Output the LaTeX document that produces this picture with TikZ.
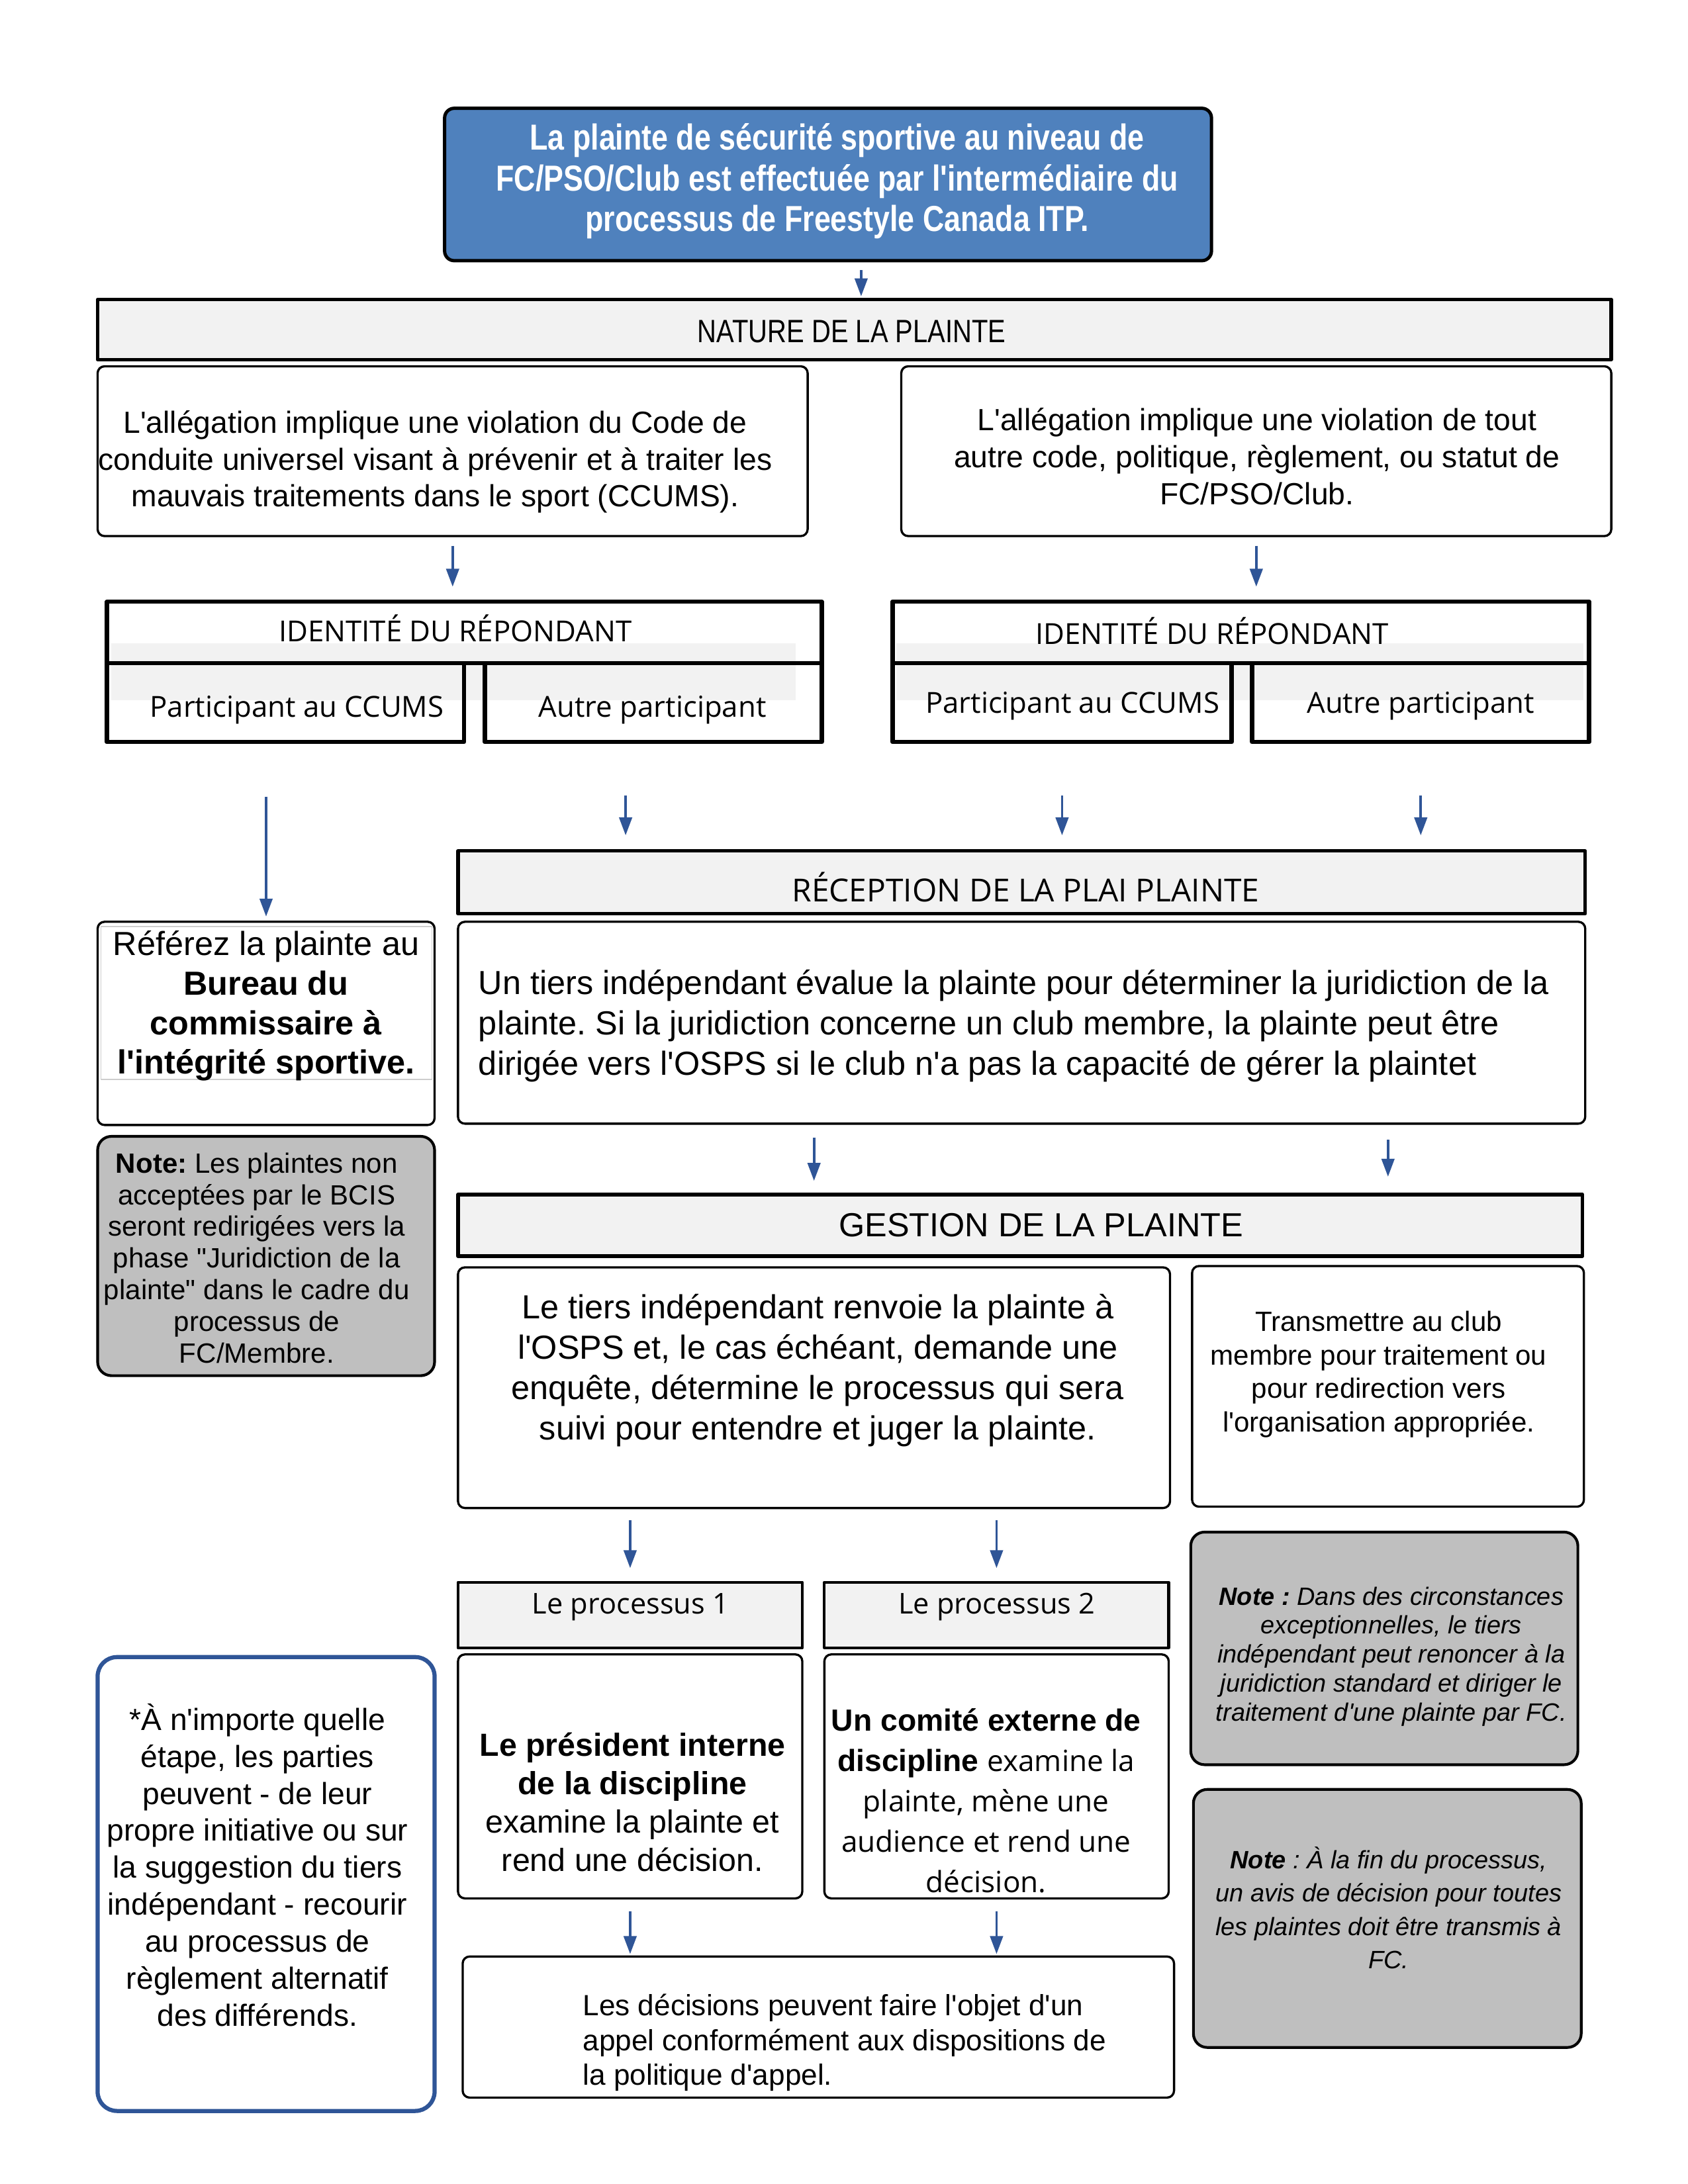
\documentclass[tikz,border=0pt]{standalone}
\usepackage{fontspec}
\setmainfont{Liberation Sans}[Ligatures=TeXOff]
\newfontfamily\segoe{Open Sans}[Ligatures=TeXOff]
\newfontfamily\narrow{Liberation Sans}[FakeStretch=0.82,Ligatures=TeXOff]
\usetikzlibrary{fit,arrows.meta}
\definecolor{headblue}{RGB}{79,129,189}
\definecolor{arrowblue}{RGB}{47,85,151}
\definecolor{bargray}{RGB}{242,242,242}
\definecolor{notegray}{RGB}{191,191,191}
\definecolor{framegray}{RGB}{205,205,205}
\newcommand{\fs}[2]{\fontsize{#1}{#2}\selectfont}
\begin{document}
\frenchspacing
\begin{tikzpicture}[x=0.2424pt, y=-0.2424pt, line join=round,
  box/.style={draw, line width=0.8pt, rounded corners=2.5pt, inner sep=0pt},
  bar/.style={draw, line width=1.3pt, fill=bargray, inner sep=0pt},
  idbox/.style={draw, line width=1.6pt, inner sep=0pt},
  note/.style={draw, line width=1pt, fill=notegray, rounded corners=5pt, inner sep=0pt},
  txt/.style={inner sep=0pt, align=center},
  arr/.style={-{Triangle[length=6.5pt,width=4.6pt]}, draw=arrowblue, line width=0.9pt}]
\useasboundingbox (0pt,0pt) rectangle (612pt,-792pt);

\node[box, fill=headblue, line width=1.2pt, rounded corners=3.5pt, fit={(665,162) (1812,390)}] (head) {};
\node[txt, text=white, font=\narrow\bfseries\fs{13.1}{14.7}] (head-t) at (1252,271)
  {La plainte de sécurité sportive au niveau de\\FC/PSO/Club est effectuée par l'intermédiaire du\\processus de Freestyle Canada ITP.};

\node[bar, fit={(146,448) (2410,538)}] (nature) {};
\node[txt, font=\narrow\fs{11.7}{13}] (nature-t) at (1274,496) {NATURE DE LA PLAINTE};

\node[box, fit={(146,548) (1208,802)}] (allegL) {};
\node[txt, font=\fs{11.1}{13.4}] (allegL-t) at (651,691)
  {L'allégation implique une violation du Code de\\conduite universel visant à prévenir et à traiter les\\mauvais traitements dans le sport (CCUMS).};
\node[box, fit={(1348,548) (2410,802)}] (allegR) {};
\node[txt, font=\fs{11.1}{13.4}] (allegR-t) at (1880,683)
  {L'allégation implique une violation de tout\\autre code, politique, règlement, ou statut de\\FC/PSO/Club.};

\fill[bargray] (166,962) rectangle (1190,1048);
\fill[bargray] (1341,962) rectangle (2368,1048);
\node[idbox, fit={(160,900) (1229,992)}] (idL) {};
\node[idbox, fit={(160,992) (694,1110)}] (idLa) {};
\node[idbox, fit={(725,992) (1229,1110)}] (idLb) {};
\node[idbox, fit={(1335,900) (2377,992)}] (idR) {};
\node[idbox, fit={(1335,992) (1842,1110)}] (idRa) {};
\node[idbox, fit={(1873,992) (2377,1110)}] (idRb) {};
\node[txt, font=\segoe\fs{10.5}{12}] (idL-t) at (681,940) {IDENTITÉ DU RÉPONDANT};
\node[txt, font=\segoe\fs{10.5}{12}] (idLa-t) at (444,1062) {Participant au CCUMS};
\node[txt, font=\segoe\fs{10.5}{12}] (idLb-t) at (976,1062) {Autre participant};
\node[txt, font=\segoe\fs{10.5}{12}] (idR-t) at (1813,944) {IDENTITÉ DU RÉPONDANT};
\node[txt, font=\segoe\fs{10.5}{12}] (idRa-t) at (1604,1056) {Participant au CCUMS};
\node[txt, font=\segoe\fs{10.5}{12}] (idRb-t) at (2125,1056) {Autre participant};

\node[bar, fit={(685,1273) (2371,1367)}] (recbar) {};
\node[txt, font=\segoe\fs{11.5}{13}] (recbar-t) at (1534,1327) {RÉCEPTION DE LA PLAI PLAINTE};

\node[box, fit={(146,1379) (650,1683)}] (refer) {};
\draw[framegray, line width=0.4pt] (151,1386) rectangle (646,1615);
\node[txt, font=\fs{12.1}{14.3}] (refer-t) at (398,1505)
  {Référez la plainte au\\\textbf{Bureau du}\\\textbf{commissaire à}\\\textbf{l'intégrité sportive.}};

\node[box, fit={(685,1379) (2371,1681)}] (recbody) {};
\node[inner sep=0pt, align=left, anchor=west, font=\fs{12.1}{14.6}] (recbody-t) at (715,1535)
  {Un tiers indépendant évalue la plainte pour déterminer la juridiction de la\\plainte. Si la juridiction concerne un club membre, la plainte peut être\\dirigée vers l'OSPS si le club n'a pas la capacité de gérer la plaintet};

\node[note, fit={(146,1700) (650,2058)}] (noteL) {};
\node[txt, font=\fs{10.1}{11.5}] (noteL-t) at (384,1882)
  {\textbf{Note:} Les plaintes non\\acceptées par le BCIS\\seront redirigées vers la\\phase "Juridiction de la\\plainte" dans le cadre du\\processus de\\FC/Membre.};

\node[bar, fit={(685,1787) (2367,1879)}] (gesbar) {};
\node[txt, font=\fs{12.1}{14}] (gesbar-t) at (1557,1833) {GESTION DE LA PLAINTE};

\node[box, fit={(685,1896) (1750,2256)}] (gesbody) {};
\node[txt, font=\fs{12.1}{14.6}] (gesbody-t) at (1223,2050)
  {Le tiers indépendant renvoie la plainte à\\l'OSPS et, le cas échéant, demande une\\enquête, détermine le processus qui sera\\suivi pour entendre et juger la plainte.};
\node[box, fit={(1783,1894) (2369,2254)}] (transmit) {};
\node[txt, font=\fs{10.1}{12.1}] (transmit-t) at (2062,2056)
  {Transmettre au club\\membre pour traitement ou\\pour redirection vers\\l'organisation appropriée.};

\node[bar, line width=1pt, fit={(685,2367) (1200,2465)}] (proc1) {};
\node[bar, line width=1pt, fit={(1233,2367) (1748,2465)}] (proc2) {};
\node[txt, font=\segoe\fs{10.4}{12}] (proc1-t) at (943,2404) {Le processus 1};
\node[txt, font=\segoe\fs{10.4}{12}] (proc2-t) at (1491,2404) {Le processus 2};

\node[box, fit={(685,2475) (1200,2840)}] (body1) {};
\node[txt, font=\fs{11.6}{13.9}] (body1-t) at (946,2696)
  {\textbf{Le président interne}\\\textbf{de la discipline}\\examine la plainte et\\rend une décision.};
\node[box, fit={(1233,2475) (1748,2840)}] (body2) {};
\node[txt, font=\fs{11.1}{14.6}] (body2-t) at (1475,2694)
  {\textbf{Un comité externe de}\\\textbf{discipline} {\segoe\fs{10.6}{14.6}examine la}\\{\segoe\fs{10.6}{14.6}plainte, mène une}\\{\segoe\fs{10.6}{14.6}audience et rend une}\\{\segoe\fs{10.6}{14.6}décision.}};

\node[box, fit={(692,2927) (1756,3138)}] (decis) {};
\node[inner sep=0pt, align=left, anchor=west, font=\fs{10.6}{12.6}] (decis-t) at (871,3056)
  {Les décisions peuvent faire l'objet d'un\\appel conformément aux dispositions de\\la politique d'appel.};

\node[note, fit={(1781,2292) (2360,2640)}] (note1) {};
\node[txt, font=\itshape\fs{9.1}{10.5}] (note1-t) at (2081,2478)
  {\textbf{Note :} Dans des circonstances\\exceptionnelles, le tiers\\indépendant peut renoncer à la\\juridiction standard et diriger le\\traitement d'une plainte par FC.};
\node[note, fit={(1785,2677) (2365,3063)}] (note2) {};
\node[txt, font=\itshape\fs{9.1}{12.1}] (note2-t) at (2077,2854)
  {\textbf{Note} : À la fin du processus,\\un avis de décision pour toutes\\les plaintes doit être transmis à\\FC.};

\node[box, draw=arrowblue, line width=1.5pt, rounded corners=7pt, fit={(146,2479) (650,3158)}] (alt) {};
\node[txt, font=\fs{11.1}{13.4}] (alt-t) at (385,2790)
  {*À n'importe quelle\\étape, les parties\\peuvent - de leur\\propre initiative ou sur\\la suggestion du tiers\\indépendant - recourir\\au processus de\\règlement alternatif\\des différends.};

\coordinate (s0) at ([xshift=12pt]head.south);
\coordinate (s4) at ([xshift=-10pt]idLb.south);
\draw[arr, shorten <=2.9pt, shorten >=0.5pt] (s0) -- (s0 |- nature.north);
\draw[arr, shorten <=3.1pt, shorten >=4.6pt] (allegL.south) -- (allegL.south |- idL.north);
\draw[arr, shorten <=3.1pt, shorten >=4.6pt] (allegR.south) -- (allegR.south |- idR.north);
\draw[arr, shorten <=19pt, shorten >=1.5pt] (refer.north |- idLa.south) -- (refer.north);
\draw[arr, shorten <=18.7pt, shorten >=5pt] (s4) -- (s4 |- recbar.north);
\draw[arr, shorten <=18.7pt, shorten >=5pt] (idRa.south) -- (idRa.south |- recbar.north);
\draw[arr, shorten <=18.7pt, shorten >=5pt] (idRb.south) -- (idRb.south |- recbar.north);
\draw[arr, shorten <=4.6pt, shorten >=4.3pt] (gesbody.north |- recbody.south) -- (gesbody.north |- gesbar.north);
\draw[arr, shorten <=5.5pt, shorten >=5.8pt] (transmit.north |- recbody.south) -- (transmit.north |- gesbar.north);
\draw[arr, shorten <=4.1pt, shorten >=4.6pt] (proc1.north |- gesbody.south) -- (proc1.north);
\draw[arr, shorten <=4.1pt, shorten >=4.6pt] (proc2.north |- gesbody.south) -- (proc2.north);
\draw[arr, shorten <=4.3pt, shorten >=0.5pt] (body1.south) -- (body1.south |- decis.north);
\draw[arr, shorten <=4.3pt, shorten >=0.5pt] (body2.south) -- (body2.south |- decis.north);
\end{tikzpicture}
\end{document}
